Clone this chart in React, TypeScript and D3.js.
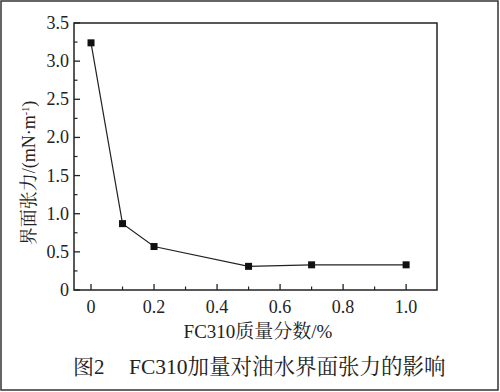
import React from "react";
import * as d3 from "d3";

const xValues = [0, 0.1, 0.2, 0.5, 0.7, 1.0];
const yValues = [3.24, 0.87, 0.57, 0.31, 0.33, 0.33];
const xTicks = [0, 0.2, 0.4, 0.6, 0.8, 1.0];
const xMinor = [0.1, 0.3, 0.5, 0.7, 0.9];
const yTicks = [0, 0.5, 1.0, 1.5, 2.0, 2.5, 3.0, 3.5];
const yMinor = [0.25, 0.75, 1.25, 1.75, 2.25, 2.75, 3.25];
const xTitle = "FC310质量分数/%";
const yTitle = "界面张力/(mN·m";
const captionLabel = "图2";
const captionText = "FC310加量对油水界面张力的影响";

const W = 500, H = 392;
const L = 74, T = 23, R = 437, B = 290;
const FONT = "'Liberation Serif', 'Noto Serif CJK SC', 'Noto Sans CJK SC', serif";

export default function App() {
  const x = d3.scaleLinear().domain([-0.054, 1.098]).range([L, R]);
  const y = d3.scaleLinear().domain([0, 3.5]).range([B, T]);
  const pts = xValues.map((v, i) => [x(v), y(yValues[i])] as [number, number]);
  const line = d3.line();
  const fmt = (v: number) => (v === 0 ? "0" : v.toFixed(1));
  const ms = 7;
  return (
    <svg width={W} height={H} style={{ position: "absolute", left: 0, top: 0, background: "#fff" }}>
      <rect x={1} y={1} width={W - 3} height={H - 3} fill="#fff" stroke="#333" strokeWidth={1.5} />
      <rect x={L} y={T} width={R - L} height={B - T} fill="none" stroke="#222" strokeWidth={1.5} />
      {xTicks.map((t) => (
        <g key={"xt" + t}>
          <line x1={x(t)} x2={x(t)} y1={B} y2={B - 6} stroke="#222" strokeWidth={1.3} />
          <text x={x(t)} y={313} textAnchor="middle" fontFamily={FONT} fontSize={18} fill="#222">{fmt(t)}</text>
        </g>
      ))}
      {xMinor.map((t) => (
        <line key={"xm" + t} x1={x(t)} x2={x(t)} y1={B} y2={B - 3.5} stroke="#222" strokeWidth={1.2} />
      ))}
      {yTicks.map((t) => (
        <g key={"yt" + t}>
          <line x1={L} x2={L + 6} y1={y(t)} y2={y(t)} stroke="#222" strokeWidth={1.3} />
          <text x={69} y={y(t) + 6} textAnchor="end" fontFamily={FONT} fontSize={18} fill="#222">{fmt(t)}</text>
        </g>
      ))}
      {yMinor.map((t) => (
        <line key={"ym" + t} x1={L} x2={L + 3.5} y1={y(t)} y2={y(t)} stroke="#222" strokeWidth={1.2} />
      ))}
      <path d={line(pts) || ""} fill="none" stroke="#222" strokeWidth={1.2} />
      {pts.map((p, i) => (
        <rect key={"m" + i} x={p[0] - ms / 2} y={p[1] - ms / 2} width={ms} height={ms} fill="#111" />
      ))}
      <text x={258} y={338} textAnchor="middle" fontFamily={FONT} fontSize={19} fill="#222">{xTitle}</text>
      <text transform="translate(35,173) rotate(-90)" textAnchor="middle" fontFamily={FONT} fontSize={18} fill="#222">
        {yTitle}
        <tspan fontSize={10} dy={-6}>-1</tspan>
        <tspan dy={6}>)</tspan>
      </text>
      <text x={73} y={374} fontFamily={FONT} fontSize={21} fill="#222">{captionLabel}</text>
      <text x={129} y={374} fontFamily={FONT} fontSize={21.5} fill="#222">{captionText}</text>
    </svg>
  );
}
